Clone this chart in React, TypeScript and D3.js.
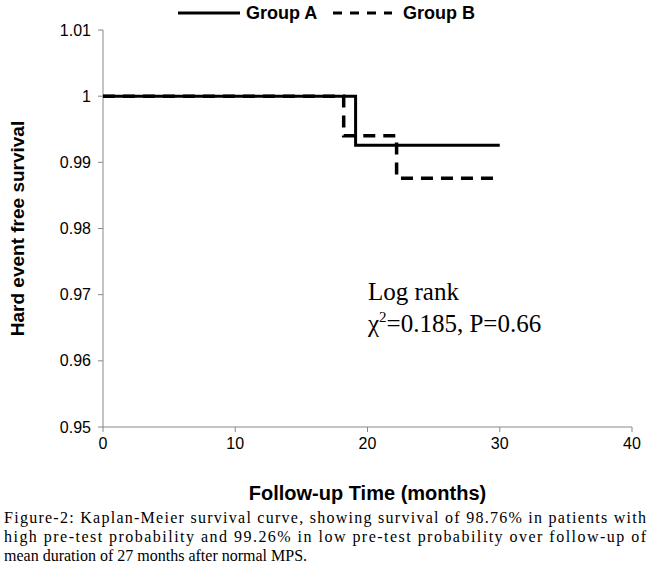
import * as d3 from "d3";
import React from "react";

const timesA = [0, 19.1, 30];
const survA = [1, 0.9926, 0.9926];
const timesB = [0, 18.2, 22.2, 30];
const survB = [1, 0.994, 0.9876, 0.9876];
const xTicks = [0, 10, 20, 30, 40];
const yTicks = [0.95, 0.96, 0.97, 0.98, 0.99, 1, 1.01];

const W = 650, H = 575;
const m = { left: 103, right: 18, top: 30, bottom: 148 };

export default function App() {
  const x = d3.scaleLinear().domain([0, 40]).range([m.left, W - m.right]);
  const y = d3.scaleLinear().domain([0.95, 1.01]).range([H - m.bottom, m.top]);
  const step = (t: number[], s: number[]) =>
    d3.line<number>().x((_, i) => x(t[i])).y((_, i) => y(s[i])).curve(d3.curveStepAfter)(t.map((_, i) => i)) || "";
  const sans = "Arial, 'Liberation Sans', sans-serif";
  const serif = "'Times New Roman', 'Liberation Serif', serif";
  return (
    <svg width={W} height={H} style={{ position: "absolute", left: 0, top: 0, background: "#fff" }}>
      <line x1={x(0)} x2={x(0)} y1={y(1.01)} y2={y(0.95)} stroke="#888" />
      <line x1={x(0)} x2={x(40)} y1={y(0.95)} y2={y(0.95)} stroke="#888" />
      {yTicks.map((t) => (
        <g key={t}>
          <line x1={x(0) - 5} x2={x(0)} y1={y(t)} y2={y(t)} stroke="#888" />
          <text x={x(0) - 12} y={y(t)} dy="0.35em" textAnchor="end" fontFamily={sans} fontSize={16}>{d3.format("")(+t.toFixed(2))}</text>
        </g>
      ))}
      {xTicks.map((t) => (
        <g key={t}>
          <line x1={x(t)} x2={x(t)} y1={y(0.95)} y2={y(0.95) + 5} stroke="#888" />
          <text x={x(t)} y={y(0.95) + 22} textAnchor="middle" fontFamily={sans} fontSize={16}>{t}</text>
        </g>
      ))}
      <path d={step(timesA, survA)} fill="none" stroke="#000" strokeWidth={3} />
      <path d={step(timesB, survB)} fill="none" stroke="#000" strokeWidth={3.5} strokeDasharray="12,8" />
      <text transform={`translate(24,${(y(1.01) + y(0.95)) / 2}) rotate(-90)`} textAnchor="middle" fontFamily={sans} fontSize={19} fontWeight="bold">Hard event free survival</text>
      <text x={x(20)} y={500} textAnchor="middle" fontFamily={sans} fontSize={20} fontWeight="bold">Follow-up Time (months)</text>
      <line x1={178} x2={240} y1={13} y2={13} stroke="#000" strokeWidth={3} />
      <text x={246} y={19} fontFamily={sans} fontSize={18} fontWeight="bold">Group A</text>
      <line x1={333} x2={392} y1={13} y2={13} stroke="#000" strokeWidth={3} strokeDasharray="9,8" />
      <text x={403} y={19} fontFamily={sans} fontSize={18} fontWeight="bold">Group B</text>
      <text x={368} y={300} fontFamily={serif} fontSize={25}>Log rank</text>
      <text x={368} y={332} fontFamily={serif} fontSize={25}>χ<tspan dy={-10} fontSize={15}>2</tspan><tspan dy={10}>=0.185, P=0.66</tspan></text>
      <g fontFamily={serif} fontSize={16}>
        <text x={4} y={523} textLength={642} lengthAdjust="spacing">Figure-2: Kaplan-Meier survival curve, showing survival of 98.76% in patients with</text>
        <text x={4} y={542} textLength={642} lengthAdjust="spacing">high pre-test probability and 99.26% in low pre-test probability over follow-up of</text>
        <text x={4} y={561}>mean duration of 27 months after normal MPS.</text>
      </g>
    </svg>
  );
}
